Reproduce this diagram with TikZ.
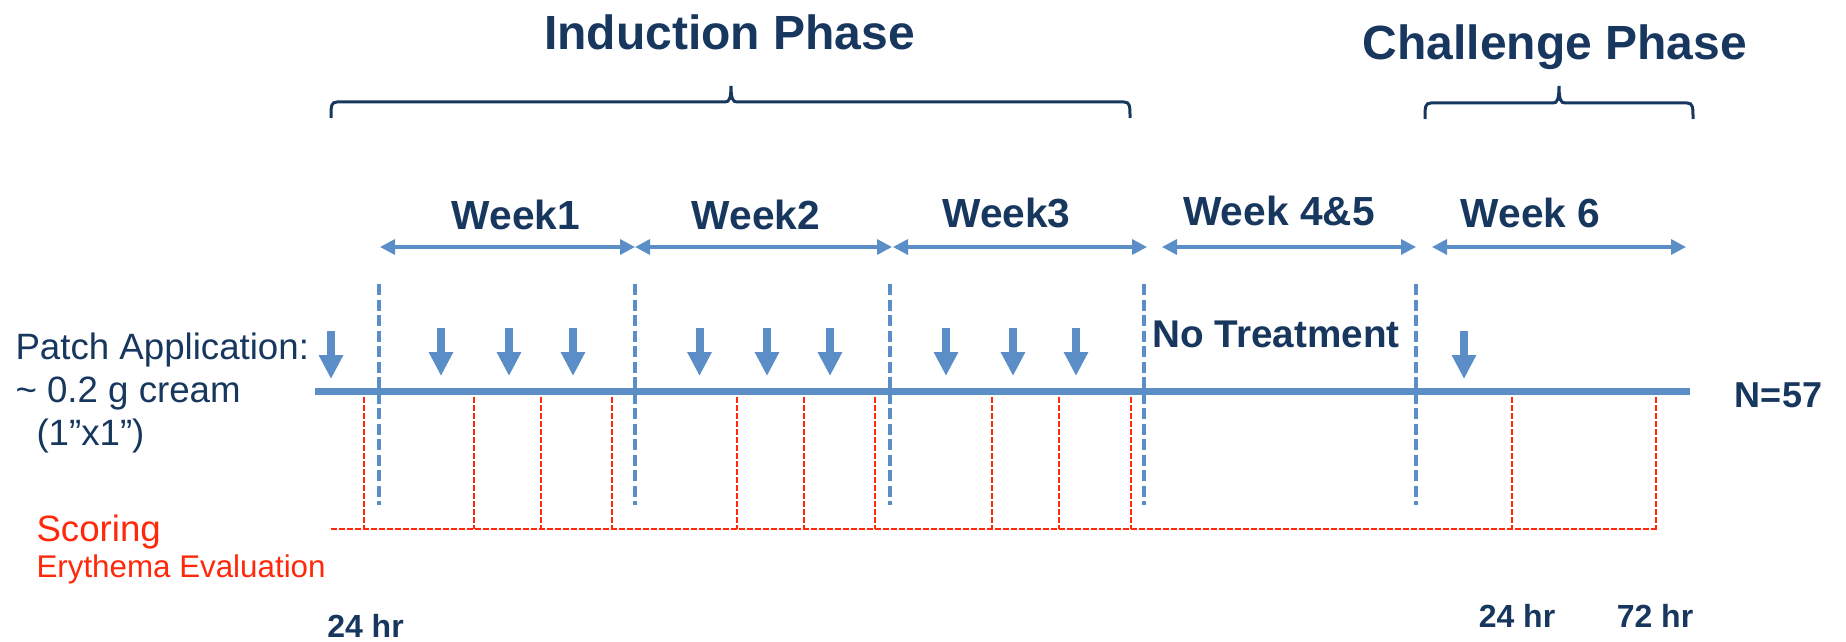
\documentclass[tikz,border=0pt]{standalone}
\usepackage{fontspec}
\setmainfont{Liberation Sans}
\usetikzlibrary{arrows.meta}

\definecolor{navytext}{RGB}{23,55,94}
\definecolor{timeblue}{RGB}{91,142,199}
\definecolor{scorered}{RGB}{255,40,10}

\tikzset{every picture/.style={line width=0.75pt}}
\tikzset{
  phasetitle/.style={font=\fontsize{36}{40}\selectfont\bfseries, text=navytext, inner sep=0pt, anchor=base},
  weeklabel/.style={font=\fontsize{30.5}{34}\selectfont\bfseries, text=navytext, inner sep=0pt, anchor=base},
  hrlabel/.style={font=\fontsize{24}{28}\selectfont\bfseries, text=navytext, inner sep=0pt, anchor=base},
  sidelabel/.style={font=\fontsize{27.5}{32}\selectfont, text=navytext, inner sep=0pt, anchor=base west},
  phasebrace/.style={draw=navytext, line width=2.25pt},
  weekspan/.style={draw=timeblue, line width=2.5pt, {Triangle[length=11.25pt,width=11.25pt]}-{Triangle[length=11.25pt,width=11.25pt]}},
  patcharrow/.style={draw=timeblue, line width=6pt, -{Triangle[length=18pt,width=17.25pt]}},
  weekdivider/.style={draw=timeblue, line width=3pt, dash pattern={on 8.25pt off 3.4pt}},
  scoreline/.style={draw=scorered, line width=1.5pt, dash pattern={on 4.5pt off 1.5pt}},
}

\begin{document}
\begin{tikzpicture}[x=0.75pt,y=0.75pt,yscale=-1,xscale=1]
\useasboundingbox (0,0) rectangle (1846,642);

%Brace [induction]
\draw [phasebrace] (331,118) .. controls (331,106) and (331,102) .. (337,102) -- (725,102) .. controls (729,102) and (731,99) .. (731,86) .. controls (731,99) and (733,102) .. (737,102) -- (1124,102) .. controls (1130,102) and (1130,106) .. (1130,118) ;

%Brace [challenge]
\draw [phasebrace] (1425,119) .. controls (1425,107) and (1425,103) .. (1431,103) -- (1553,103) .. controls (1557,103) and (1559,100) .. (1559,86) .. controls (1559,100) and (1561,103) .. (1565,103) -- (1687,103) .. controls (1693,103) and (1693,107) .. (1693,119) ;

%Week spans
\coordinate (w1s) at (380,247);
\coordinate (w1e) at (635,247);
\coordinate (w2s) at (635,247);
\coordinate (w2e) at (892,247);
\coordinate (w3s) at (893,247);
\coordinate (w3e) at (1147,247);
\coordinate (w4s) at (1162,247);
\coordinate (w4e) at (1416,247);
\coordinate (w6s) at (1432,247);
\coordinate (w6e) at (1686,247);
\draw [weekspan] (w1s) -- (w1e) ;
\draw [weekspan] (w2s) -- (w2e) ;
\draw [weekspan] (w3s) -- (w3e) ;
\draw [weekspan] (w4s) -- (w4e) ;
\draw [weekspan] (w6s) -- (w6e) ;

%Dashed week dividers
\foreach \x in {379,635,890,1144,1416}
  \draw [weekdivider] (\x,284) -- (\x,505) ;

%Scoring lines
\foreach \x in {364,473.5,540.5,611.5,736.5,804,875,992,1059.3,1130.5,1512,1656}
  \draw [scoreline] (\x,397) -- (\x,529) ;
\draw [scoreline] (331,529) -- (1658,529) ;

%Time line
\coordinate (tstart) at (315,391.5);
\coordinate (tend) at (1690,391.5);
\draw [draw=timeblue, line width=4.9pt] (tstart) -- (tend) ;

%Patch arrows
\foreach \x in {331,1464}
  \draw [patcharrow] (\x,331) -- (\x,379) ;
\foreach \x in {441,509,573,699.5,767,830,946,1013,1076}
  \draw [patcharrow] (\x,328) -- (\x,376) ;

% Text Node
\node [phasetitle] (induction) at (729.5,50) {Induction Phase};
% Text Node
\node [phasetitle] (challenge) at (1555,60) {Challenge Phase};
% Text Node
\node [weeklabel] (week1) at (516,229) {Week1};
% Text Node
\node [weeklabel] (week2) at (756,229) {Week2};
% Text Node
\node [weeklabel] (week3) at (1006.5,227) {Week3};
% Text Node
\node [weeklabel] (week45) at (1279,225) {Week 4\&5};
% Text Node
\node [weeklabel] (week6) at (1530.5,227) {Week 6};
% Text Node
\node [weeklabel, font=\fontsize{29}{34}\selectfont\bfseries] (notreat) at (1276,347) {No Treatment};
% Text Node
\node [weeklabel, font=\fontsize{27}{32}\selectfont\bfseries] (nsize) at (1778.5,407) {N=57};
% Text Node
\node [sidelabel] (patch) at (15,359) {Patch Application:};
% Text Node
\node [sidelabel] (dose) at (15,402) {\textasciitilde{} 0.2 g cream};
% Text Node
\node [sidelabel] (area) at (36,445) {(1”x1”)};
% Text Node
\node [sidelabel, text=scorered] (scoring) at (36,541) {Scoring};
% Text Node
\node [sidelabel, text=scorered, font=\fontsize{23.5}{28}\selectfont] (erythema) at (36,577) {Erythema Evaluation};
% Text Node
\node [hrlabel] (hr24a) at (365.5,637) {24 hr};
% Text Node
\node [hrlabel] (hr24b) at (1517,627) {24 hr};
% Text Node
\node [hrlabel] (hr72) at (1655,627) {72 hr};

\end{tikzpicture}
\end{document}
